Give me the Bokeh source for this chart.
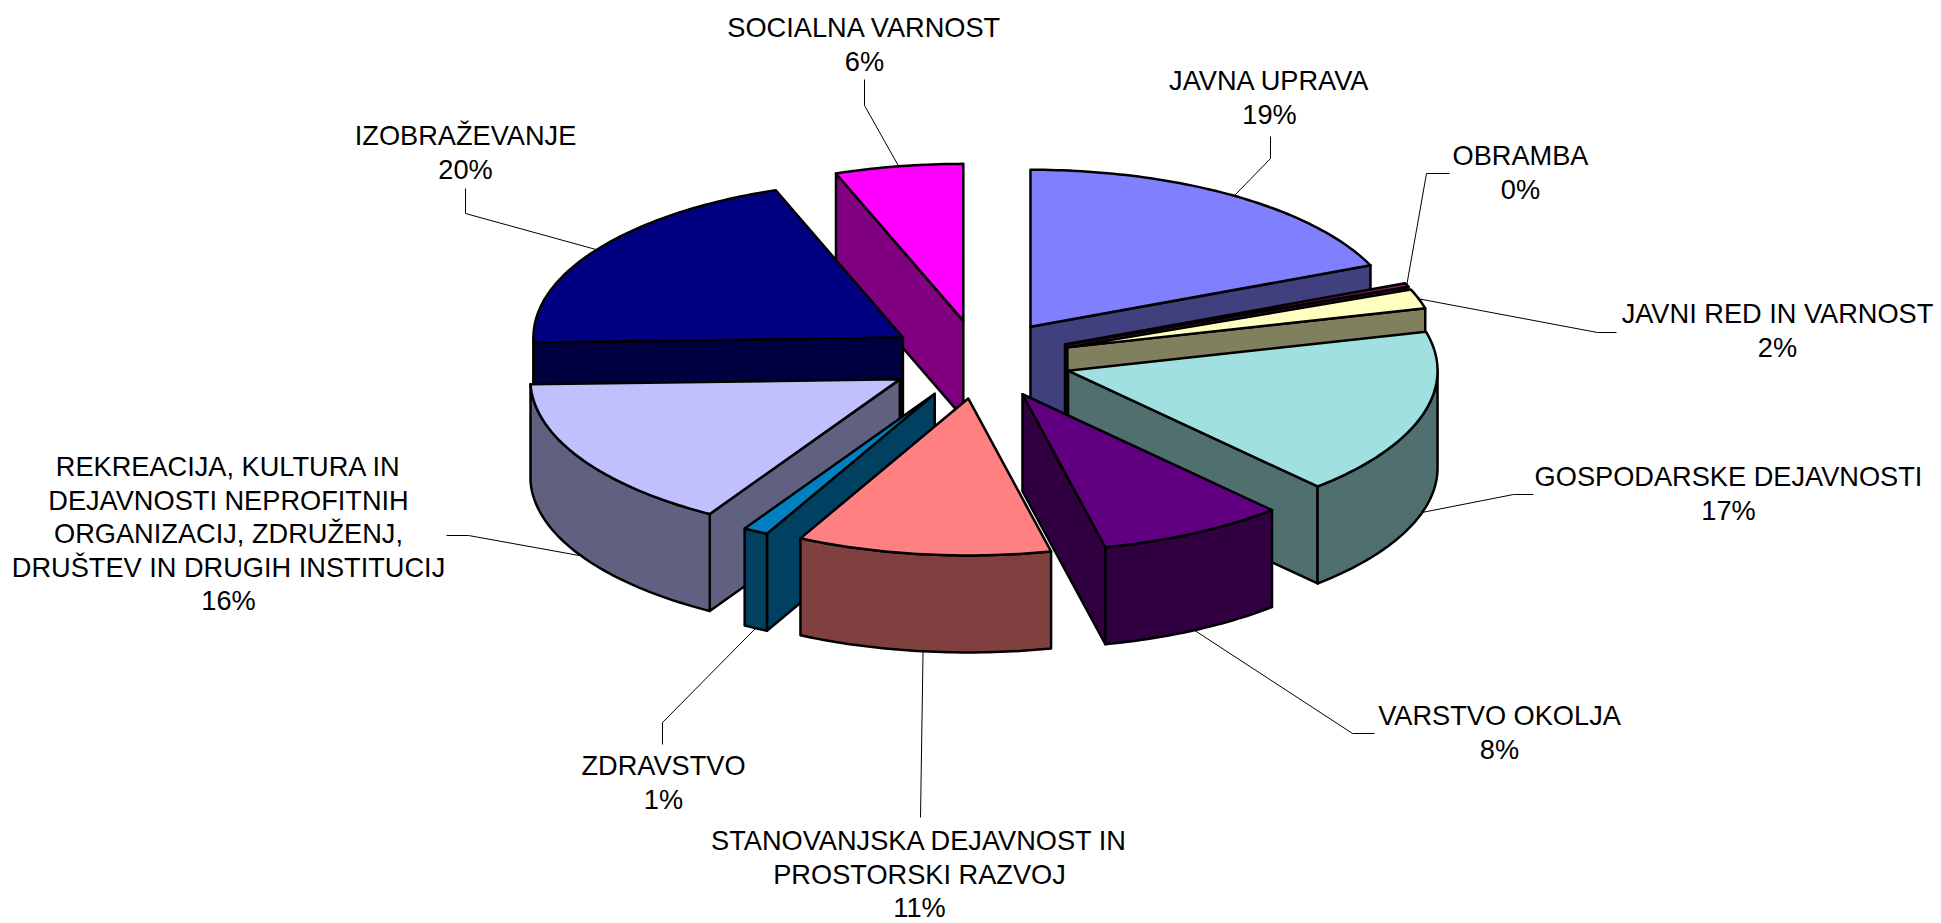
import math
from bokeh.plotting import figure
from bokeh.models import ColumnDataSource, Range1d
from bokeh.core.properties import value
from bokeh.embed import file_html
from bokeh.resources import INLINE

# data (percent shares, clockwise from 12 o'clock)
categories = [
    ["JAVNA UPRAVA"],
    ["OBRAMBA"],
    ["JAVNI RED IN VARNOST"],
    ["GOSPODARSKE DEJAVNOSTI"],
    ["VARSTVO OKOLJA"],
    ["STANOVANJSKA DEJAVNOST IN", "PROSTORSKI RAZVOJ"],
    ["ZDRAVSTVO"],
    ["REKREACIJA, KULTURA IN", "DEJAVNOSTI NEPROFITNIH", "ORGANIZACIJ, ZDRUŽENJ,",
     "DRUŠTEV IN DRUGIH INSTITUCIJ"],
    ["IZOBRAŽEVANJE"],
    ["SOCIALNA VARNOST"],
]
shares = [18.6, 0.4, 2.0, 17.2, 8.2, 11.1, 1.1, 15.9, 19.9, 5.6]
percent_labels = ["19%", "0%", "2%", "17%", "8%", "11%", "1%", "16%", "20%", "6%"]

# styles
top_colors = ["#8080FF", "#802060", "#FFFFC0", "#A0E0E0", "#600080",
              "#FF8080", "#0080C0", "#C0C0FF", "#000080", "#FF00FF"]
wall_colors = ["#40407F", "#401030", "#80805F", "#507070", "#300040",
               "#804040", "#004060", "#606080", "#000040", "#800080"]

# layout (pixels of the picture)
CX, CY, RX, RY, DEPTH, EXPLODE = 979.0, 359.0, 369.5, 157.0, 97.0, 0.25
LINE_STEP, FONT = 33.5, "27.2px"
label_centers = [(1269, 80), (1520, 155), (1777, 313), (1728, 476), (1499, 715),
                 (919, 840), (663, 765), (228, 466), (465, 135), (864, 27)]
leader_knees = [
    [(1270, 158), (1270, 136)],
    [(1426, 173), (1449, 173)],
    [(1597, 332), (1616, 332)],
    [(1513, 494), (1533, 494)],
    [(1352, 733), (1374, 733)],
    [(920, 817)],
    [(662, 722), (662, 744)],
    [(468, 535), (446, 535)],
    [(465, 213), (465, 188)],
    [(864, 105), (864, 79)],
]

p = figure(width=1941, height=923, output_backend="svg", toolbar_location=None,
           x_range=Range1d(0, 1941), y_range=Range1d(923, 0),
           min_border=0, outline_line_color=None, background_fill_color="white")
p.axis.visible = False
p.grid.visible = False

total = sum(shares)
slices = []
acc = 0.0
for i, s in enumerate(shares):
    a = acc / total * 360.0
    acc += s
    slices.append((i, a, acc / total * 360.0))


def pt(ax, ay, deg, r=1.0):
    t = math.radians(deg)
    return ax + r * RX * math.sin(t), ay - r * RY * math.cos(t)


def arc(ax, ay, a, b):
    n = max(2, int(abs(b - a)) + 2)
    return [pt(ax, ay, a + (b - a) * k / (n - 1)) for k in range(n)]


xs, ys, fills = [], [], []


def add(poly, color):
    xs.append([q[0] for q in poly])
    ys.append([q[1] for q in poly])
    fills.append(color)


mids = {}
apex = {}
for i, a, b in slices:
    m = (a + b) / 2
    mids[i] = m
    apex[i] = pt(CX, CY, m, EXPLODE)

for i, a, b in sorted(slices, key=lambda s: -math.cos(math.radians((s[1] + s[2]) / 2))):
    ax, ay = apex[i]
    for ang, vis in ((a, math.sin(math.radians(a)) < 0), (b, math.sin(math.radians(b)) > 0)):
        if vis:
            ox, oy = pt(ax, ay, ang)
            add([(ax, ay), (ox, oy), (ox, oy + DEPTH), (ax, ay + DEPTH)], wall_colors[i])
    lo, hi = max(a, 90.0), min(b, 270.0)
    if lo < hi:
        front = arc(ax, ay, lo, hi)
        add(front + [(x, y + DEPTH) for x, y in reversed(front)], wall_colors[i])
    add([(ax, ay)] + arc(ax, ay, a, b), top_colors[i])

# leader lines, drawn first
for i, a, b in slices:
    ax, ay = apex[i]
    sx, sy = pt(ax, ay, mids[i])
    if math.cos(math.radians(mids[i])) < 0:
        sy += DEPTH
    lx = [sx] + [k[0] for k in leader_knees[i]]
    ly = [sy] + [k[1] for k in leader_knees[i]]
    p.line(lx, ly, line_color="#000000", line_width=1)

p.patches("xs", "ys", source=ColumnDataSource(dict(xs=xs, ys=ys, fill=fills)),
          fill_color="fill", line_color="#000000", line_width=2.5, line_join="round")

tx, ty, tt = [], [], []
for i in range(len(shares)):
    lines = categories[i] + [percent_labels[i]]
    cx, cy = label_centers[i]
    for k, line in enumerate(lines):
        tx.append(cx)
        ty.append(cy + k * LINE_STEP)
        tt.append(line)
p.text(tx, ty, text=tt, text_font=value("Liberation Sans"), text_font_size=FONT,
       text_align="center", text_baseline="middle", text_color="#000000")

open("out.html", "w").write(file_html(p, INLINE))
